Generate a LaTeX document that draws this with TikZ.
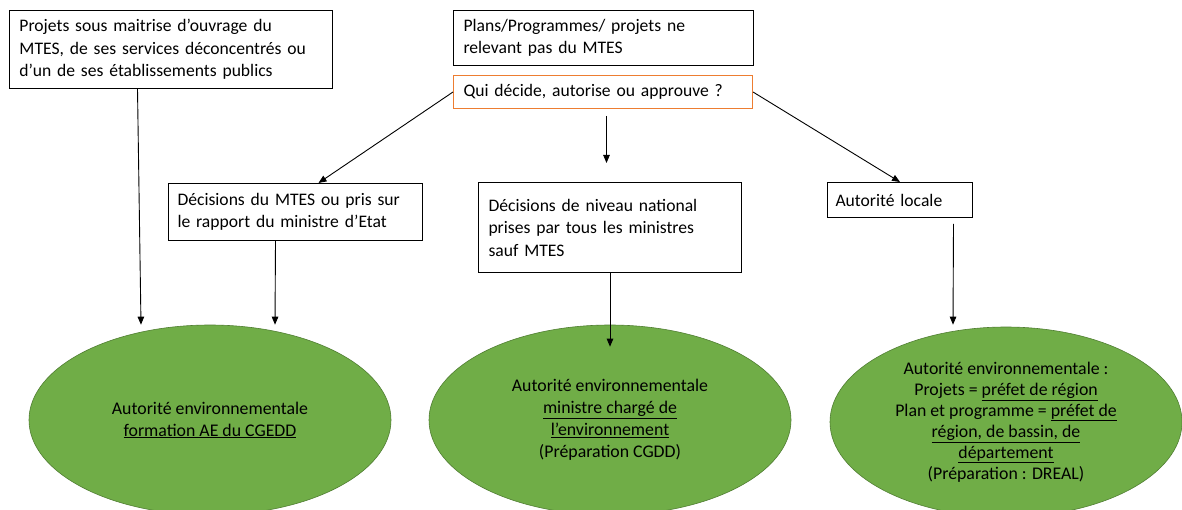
\documentclass[tikz,border=0pt]{standalone}
\usepackage{fontspec}
\setmainfont{Carlito}
\usetikzlibrary{shapes.geometric,arrows.meta}
\definecolor{aegreen}{HTML}{70AD47}
\definecolor{aeborder}{HTML}{507E32}
\definecolor{orangebox}{HTML}{ED7D31}
\begin{document}
\begin{tikzpicture}[x=1pt,y=-1pt,
  box/.style={draw=black, line width=1pt, rectangle, anchor=north west, align=left,
    inner xsep=10pt, inner ysep=0pt, font=\fontsize{17.6}{22.5}\selectfont},
  ae/.style={ellipse, draw=aeborder, fill=aegreen, line width=0.6pt, inner sep=0pt,
    align=center, minimum height=190pt, font=\fontsize{17.8}{22}\selectfont},
  arr/.style={-{Triangle[length=8pt,width=6.5pt]}, line width=0.9pt}]
\useasboundingbox (0,0) rectangle (1182,510);
\fill[white] (0,0) rectangle (1182,510);

\node[box, minimum width=323pt, minimum height=78pt, text width=303pt] (a) at (9,10)
  {Projets sous maitrise d’ouvrage du\\MTES, de ses services déconcentrés ou\\d’un de ses établissements publics};
\node[box, minimum width=300pt, minimum height=55pt, text width=280pt] (b) at (453,10)
  {Plans/Programmes/ projets ne\\relevant pas du MTES};
\node[box, draw=orangebox, minimum width=299pt, minimum height=33pt, text width=279pt] (c) at (453,75)
  {Qui décide, autorise ou approuve ?};
\node[box, inner xsep=9pt, minimum width=254pt, minimum height=57pt, text width=236pt] (d) at (168,183)
  {Décisions du MTES ou pris sur\\le rapport du ministre d’Etat};
\node[box, minimum width=263pt, minimum height=90pt, text width=243pt] (e) at (478,182)
  {Décisions de niveau national\\prises par tous les ministres\\sauf MTES};
\node[box, inner xsep=8pt, minimum width=145pt, minimum height=35pt, text width=129pt] (f) at (827,182)
  {Autorité locale};

\node[ae, minimum width=362pt] (e1) at (210,420)
  {Autorité environnementale\\\underline{formation AE du CGEDD}};
\node[ae, minimum width=362pt] (e2) at (610,420)
  {Autorité environnementale\\\underline{ministre chargé de}\\\underline{l’environnement}\\(Préparation CGDD)};
\node[ae, minimum width=352pt, font=\fontsize{17.8}{21}\selectfont] (e3) at (1006,422)
  {Autorité environnementale :\\Projets = \underline{préfet de région}\\Plan et programme = \underline{préfet de}\\\underline{région, de bassin, de}\\\underline{département}\\(Préparation : DREAL)};

\draw[arr] ([xshift=-33.5pt]a.south) -- ([xshift=-69pt]e1.north);
\draw[arr] ([xshift=-20pt]d.south) -- ([xshift=65pt]e1.north);
\draw[arr] (c.west) -- ([xshift=23pt]d.north);
\draw[arr] ([xshift=3.5pt,yshift=-7pt]c.south) -- ([xshift=-3.5pt,yshift=19pt]e.north);
\draw[arr] (c.east) -- (f.north);
\draw[arr] (e.south) -- ([yshift=-22pt]e2.north);
\draw[arr] ([xshift=53.5pt,yshift=-6pt]f.south) -- ([xshift=-53pt,yshift=2pt]e3.north);
\end{tikzpicture}
\end{document}
